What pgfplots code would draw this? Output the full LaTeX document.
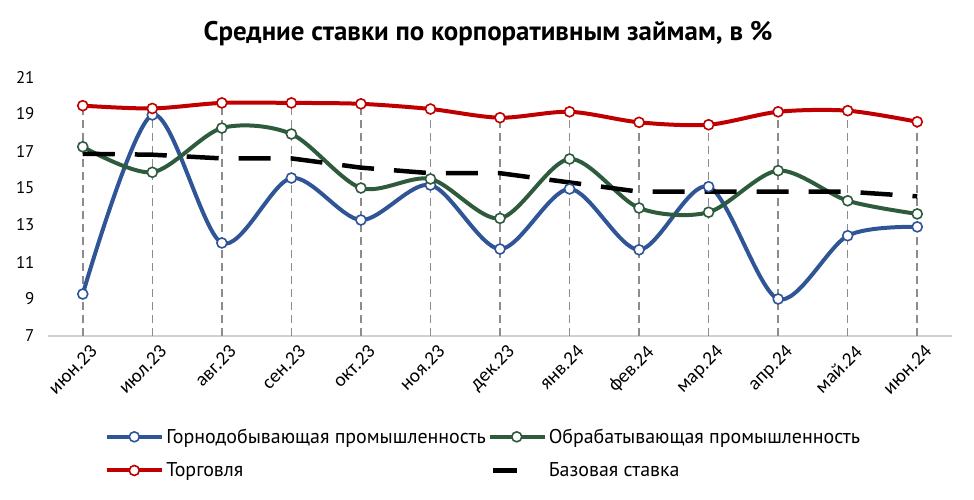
\documentclass[border=0pt]{standalone}
\usepackage{fontspec}
\setmainfont{PT Sans}
\newfontfamily\carlito{Carlito}
\usepackage{pgfplots}
\usepackage{pgfplotstable}
\pgfplotsset{compat=1.18}

\definecolor{cblue}{HTML}{2F5597}
\definecolor{cgreen}{HTML}{2E5B3C}
\definecolor{cred}{HTML}{C00000}

% ставки по месяцам, июн.23 = 0
\pgfplotstableread{
x  gorn   obr    torg   baza
0  9.27   17.23  19.45  16.85
1  18.95  15.85  19.30  16.80
2  12.03  18.24  19.60  16.60
3  15.54  17.92  19.60  16.60
4  13.27  15.00  19.55  16.10
5  15.16  15.49  19.27  15.80
6  11.70  13.36  18.80  15.80
7  14.95  16.57  19.12  15.30
8  11.66  13.92  18.55  14.80
9  15.07  13.69  18.42  14.80
10 9.00   15.94  19.12  14.80
11 12.42  14.31  19.18  14.80
12 12.90  13.60  18.58  14.55
}\rates

\begin{document}
\begin{tikzpicture}
\begin{axis}[name=ax, scale only axis, width=904bp, height=259bp,
    xmin=-0.5, xmax=12.5, ymin=7, ymax=21,
    xtick={0,...,12},
    xticklabels={июн.23,июл.23,авг.23,сен.23,окт.23,ноя.23,дек.23,янв.24,фев.24,мар.24,апр.24,май.24,июн.24},
    ytick={7,9,...,21},
    axis x line=bottom, axis y line=left,
    x axis line style={-, draw=black!18, line width=1.6bp},
    y axis line style={draw=none},
    major tick length=0pt,
    /pgf/number format/assume math mode=true,
    yticklabel style={font=\fontsize{17}{20}\selectfont, xshift=-10bp},
    xticklabel style={font=\carlito\fontsize{19.5}{22}\selectfont, rotate=45, anchor=north east, inner sep=1bp, yshift=-9bp},
    title={Средние ставки по корпоративным займам, в \%},
    title style={font=\bfseries\fontsize{27}{32}\selectfont, at={(0.5,1)}, anchor=center, yshift=37bp, xshift=-12bp},
    legend columns=2,
    legend cell align=left,
    legend style={draw=none, fill=none, font=\fontsize{20}{23}\selectfont,
        at={(0.482,-0.35)}, anchor=north, row sep=14bp, column sep=0bp, inner sep=0pt},
    legend image code/.code={\draw[mark repeat=2,mark phase=2] plot coordinates {(0bp,0bp) (27bp,0bp) (55bp,0bp)};},
    every axis plot/.append style={line width=4bp},
    mark options={solid, fill=white, line width=1.6bp},
]
\addplot[ycomb, draw=black!45, line width=1.5bp, dash pattern=on 8bp off 5bp, forget plot] table[x=x, y=torg] {\rates};
\addplot[cblue, smooth, mark=*, mark size=5bp] table[x=x, y=gorn] {\rates};
\addlegendentry{Горнодобывающая промышленность}
\addplot[cgreen, smooth, mark=*, mark size=5bp] table[x=x, y=obr] {\rates};
\addlegendentry{Обрабатывающая промышленность}
\addplot[cred, smooth, mark=*, mark size=5bp] table[x=x, y=torg] {\rates};
\addlegendentry{Торговля}
\addplot[black, line width=4.5bp, dash pattern=on 32bp off 20bp,
    legend image code/.code={\draw[solid, line width=4.5bp] (3bp,0bp) -- (27bp,0bp);}] table[x=x, y=baza] {\rates};
\addlegendentry{Базовая ставка}
\end{axis}
\pgfresetboundingbox
\path ([xshift=-48bp, yshift=-164bp]ax.south west) rectangle ([xshift=22bp, yshift=77bp]ax.north east);
\end{tikzpicture}
\end{document}
